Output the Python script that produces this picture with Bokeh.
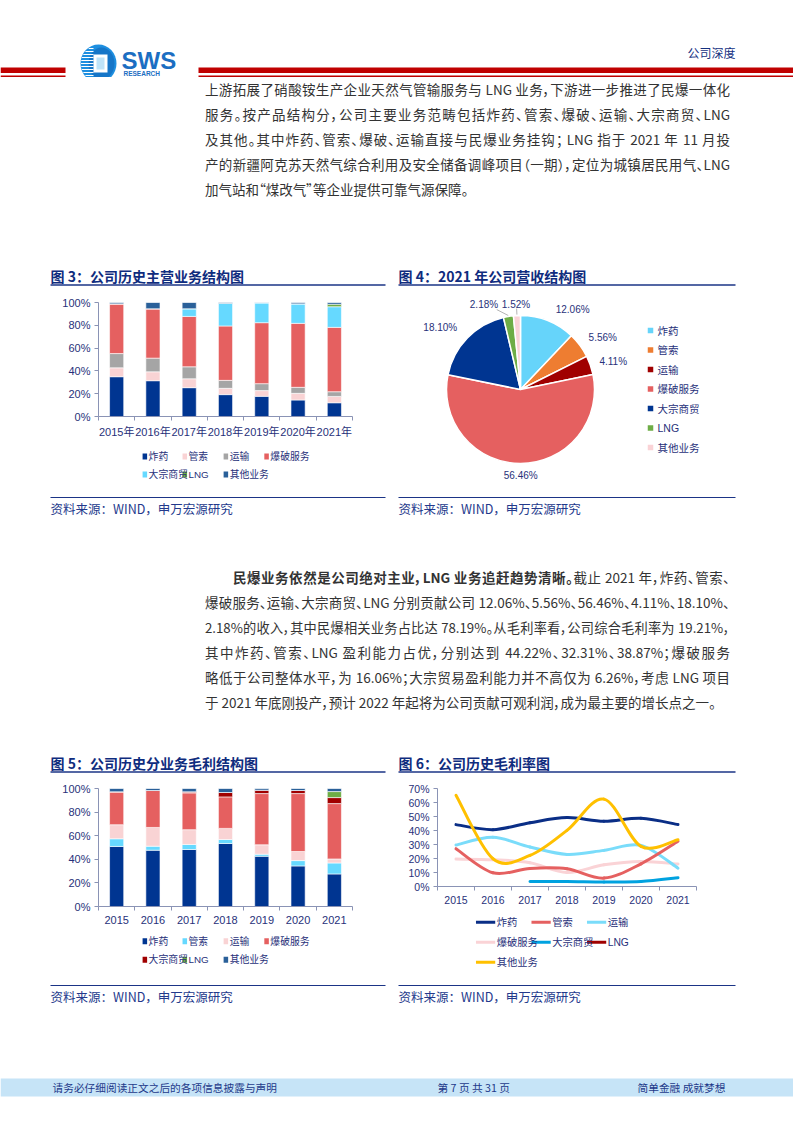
import math
from bokeh.plotting import figure
from bokeh.models import (Range1d, FixedTicker, PrintfTickFormatter, ColumnDataSource, Div, Spacer)
from bokeh.layouts import column, row
from bokeh.core.properties import value
from bokeh.embed import file_html
from bokeh.resources import INLINE

# ---------------- data ----------------
YEARS_CN = ["2015年", "2016年", "2017年", "2018年", "2019年", "2020年", "2021年"]
YEARS = ["2015", "2016", "2017", "2018", "2019", "2020", "2021"]
SEGMENTS = ["炸药", "管索", "运输", "爆破服务", "大宗商贸", "LNG", "其他业务"]

# 图3 主营业务收入结构 (%)
rev_zhayao = [34.9, 31.4, 25.3, 19.2, 17.7, 14.5, 12.06]
rev_guansuo = [7.8, 7.8, 7.8, 5.5, 5.0, 5.8, 5.56]
rev_yunshu = [12.5, 12.0, 10.5, 7.0, 6.1, 5.3, 4.11]
rev_baopo = [43.6, 43.3, 44.2, 47.7, 53.5, 56.1, 56.46]
rev_dazong = [0.0, 0.0, 6.7, 20.0, 17.4, 17.1, 18.10]
rev_lng = [0.0, 0.0, 0.0, 0.0, 0.0, 0.0, 2.18]
rev_other = [1.2, 5.5, 5.5, 0.6, 0.3, 1.2, 1.52]

# 图4 2021 年营收结构 (%)
pie_share = [12.06, 5.56, 4.11, 56.46, 18.10, 2.18, 1.52]
pie_labels = ["12.06%", "5.56%", "4.11%", "56.46%", "18.10%", "2.18%", "1.52%"]

# 图5 毛利结构 (%)
gp_zhayao = [50.9, 47.7, 48.3, 53.4, 42.6, 34.4, 27.6]
gp_guansuo = [6.5, 3.4, 4.3, 3.4, 1.7, 4.5, 9.3]
gp_yunshu = [11.9, 15.9, 12.5, 9.4, 8.0, 7.7, 3.4]
gp_baopo = [27.9, 31.3, 31.2, 26.7, 43.4, 49.1, 46.9]
gp_dazong = [0.0, 0.0, 0.9, 3.7, 2.9, 2.6, 5.1]
gp_lng = [0.0, 0.0, 0.0, 0.0, 0.0, 0.0, 5.1]
gp_other = [2.8, 1.7, 2.8, 3.4, 1.4, 1.7, 2.6]

# 图6 毛利率 (%)
gm_zhayao = [44.2, 40.6, 45.6, 49.2, 46.6, 48.7, 44.22]
gm_guansuo = [27.0, 9.8, 12.9, 12.7, 6.0, 16.2, 32.31]
gm_yunshu = [29.6, 35.1, 28.2, 22.9, 25.8, 29.4, 13.1]
gm_baopo = [19.6, 19.1, 17.0, 10.0, 15.5, 17.9, 16.06]
gm_dazong = [None, None, 3.6, 3.6, 3.3, 3.6, 6.26]
gm_lng = [None, None, None, None, None, None, 38.87]
gm_other = [65.2, 19.8, 22.2, 40.1, 62.4, 28.7, 33.4]

P1_LINES = [
    "上游拓展了硝酸铵生产企业天然气管输服务与 LNG 业务，下游进一步推进了民爆一体化",
    "服务。按产品结构分，公司主要业务范畴包括炸药、管索、爆破、运输、大宗商贸、LNG",
    "及其他。其中炸药、管索、爆破、运输直接与民爆业务挂钩； LNG 指于 2021 年 11 月投",
    "产的新疆阿克苏天然气综合利用及安全储备调峰项目（一期），定位为城镇居民用气、LNG",
    "加气站和“煤改气”等企业提供可靠气源保障。",
]
P2_BOLD = "民爆业务依然是公司绝对主业，LNG 业务追赶趋势清晰。"
P2_LINES = [
    "截止 2021 年，炸药、管索、",
    "爆破服务、运输、大宗商贸、LNG 分别贡献公司 12.06%、5.56%、56.46%、4.11%、18.10%、",
    "2.18%的收入，其中民爆相关业务占比达 78.19%。从毛利率看，公司综合毛利率为 19.21%，",
    "其中炸药、管索、LNG 盈利能力占优，分别达到 44.22%、32.31%、38.87%；爆破服务",
    "略低于公司整体水平，为 16.06%；大宗贸易盈利能力并不高仅为 6.26%，考虑 LNG 项目",
    "于 2021 年底刚投产，预计 2022 年起将为公司贡献可观利润，成为最主要的增长点之一。",
]

# ---------------- styles ----------------
CJK = "Noto Sans CJK SC"
LAT = "Liberation Sans, Noto Sans CJK SC"
TXT = "#28317A"
NAVY = "#14307F"
AXIS = "#8A93B5"
RED = "#C00000"

C3 = ["#003591", "#F9D3D4", "#A5A5A5", "#E56060", "#66D9FF", "#6EAD46", "#2A6099"]
C4 = ["#66D4FA", "#EE7D31", "#A00000", "#E56060", "#003591", "#6EAD46", "#FAD3D6"]
C5 = ["#003591", "#66D9FF", "#F9D3D4", "#E56060", "#A00000", "#6EAD46", "#2A6099"]
C6 = ["#0A2E86", "#E56060", "#7ADCFA", "#FAD3D6", "#00A2E0", "#A00000", "#FFC000"]

W = 793


def canvas(y0, y1, x0=0, x1=793):
    return figure(width=int(x1 - x0), height=int(y1 - y0), x_range=Range1d(x0, x1),
                  y_range=Range1d(y1, y0), toolbar_location=None, output_backend="svg",
                  min_border=0, x_axis_type=None, y_axis_type=None, outline_line_color=None)


def txt(p, x, y, s, size, color, font=CJK, bold=False, align="left"):
    xs = x if isinstance(x, list) else [x]
    ys = y if isinstance(y, list) else [y]
    ss = s if isinstance(s, list) else [s]
    p.text(x=xs, y=ys, text=ss, text_font=value(font), text_font_size=size,
           text_color=color, text_baseline="middle", text_align=align,
           text_font_style="bold" if bold else "normal")


# ---------------- header ----------------
hdr = canvas(0, 77)
hdr.quad(left=[0, 198], right=[65, 793], top=[67, 67], bottom=[72.5, 72.5], fill_color=RED, line_color=None)
hdr.quad(left=[0, 198], right=[65, 793], top=[75, 75], bottom=[77, 77], fill_color=RED, line_color=None)
hdr.ellipse(x=98, y=63, width=36, height=38, fill_color="#1E8FE0", line_color=None)
hdr.ellipse(x=101, y=63, width=26, height=32, fill_color="#1676C8", line_color=None)
sy = list(range(48, 80, 3))
sx0 = [98 - math.sqrt(max(18.5 ** 2 - (y - 63) ** 2, 0)) + 1 for y in sy]
hdr.segment(x0=sx0, y0=sy, x1=[93] * len(sy), y1=sy, line_color="white", line_width=1)
hdr.rect(x=100, y=63, width=14, height=18, fill_color="white", line_color=None)
hdr.rect(x=100, y=63, width=8, height=12, fill_color="#BFE3F8", line_color=None)
txt(hdr, 121, 59.5, "SWS", "24px", "#1B6EC2", font="Liberation Sans", bold=True)
txt(hdr, 123, 72.5, "RESEARCH", "6.5px", "#1B6EC2", font="Liberation Sans", bold=True)
txt(hdr, 687, 52, "公司深度", "12px", NAVY)


# ---------------- paragraphs ----------------
def est_em(s, bold=False):
    w = 0.0
    for ch in s:
        if ch in "、，。；：（）“”":
            w += 0.5
        elif ord(ch) > 0x2E80:
            w += 1.0
        elif ch.isdigit():
            w += 0.555
        elif ch == ".":
            w += 0.28
        elif ch == "%":
            w += 0.87
        elif ch == " ":
            w += 0.23
        else:
            w += 0.64
    return w * (1.03 if bold else 1.0)


def para(lines, height, pad_top):
    rows = []
    for i, (h, plain, bold, indent) in enumerate(lines):
        last = i == len(lines) - 1
        em = est_em(plain) + est_em(bold, True)
        fs = min(13.5, (516 - indent) / em)
        rows.append(
            f'<div style="height:25px;line-height:25px;font-size:{fs:.2f}px;text-align:justify;'
            f'text-align-last:{"left" if last else "justify"};padding-left:{indent}px;">{h}</div>')
    html = (f'<div style="margin-left:205px;width:525px;padding-top:{pad_top}px;'
            f'font-family:\'Noto Sans CJK SC\';color:#333333;'
            f'font-feature-settings:\'palt\';">' + "".join(rows) + "</div>")
    return Div(text=html, width=W, height=height, margin=0)


p1 = para([(l, l, "", 0) for l in P1_LINES], 181, 0)
p2_lines = [(f"<b>{P2_BOLD}</b>{P2_LINES[0]}", P2_LINES[0], P2_BOLD, 28)] + \
           [(l, l, "", 0) for l in P2_LINES[1:]]
p2 = para(p2_lines, 230, 45)


# ---------------- title / source strips ----------------
def titles(y0, y1, ty, ly, t_left, t_right):
    p = canvas(y0, y1)
    txt(p, [50, 398], [ty, ty], [t_left, t_right], "14px", "#0F2C7E", bold=True)
    p.quad(left=[50, 398], right=[385, 735], top=[ly - 0.8] * 2, bottom=[ly + 0.8] * 2,
           fill_color="#1B3486", line_color=None)
    return p


def sources(y0, y1, ly, ty):
    p = canvas(y0, y1)
    p.quad(left=[50, 398], right=[385, 735], top=[ly - 0.6] * 2, bottom=[ly + 0.6] * 2,
           fill_color="#1B3486", line_color=None)
    s = "资料来源：WIND，申万宏源研究"
    txt(p, [50, 398], [ty, ty], [s, s], "12.5px", "#23398C")
    return p


t1 = titles(258, 292, 275, 284.5, "图 3：公司历史主营业务结构图", "图 4：2021 年公司营收结构图")
s1 = sources(490, 520, 497, 507.5)
t2 = titles(750, 780, 762, 771.5, "图 5：公司历史分业务毛利结构图", "图 6：公司历史毛利率图")
s2 = sources(982, 1010, 985, 995.5)


# ---------------- charts ----------------
def base_axes(p, cats, yticks, lab_fs):
    n = len(cats)
    centers = [i + 0.5 for i in range(n)]
    p.xgrid.visible = False
    p.ygrid.visible = False
    p.xaxis.ticker = FixedTicker(ticks=centers, minor_ticks=list(range(n + 1)))
    p.xaxis.major_label_overrides = {c: lab for c, lab in zip(centers, cats)}
    p.xaxis.major_tick_out = 0
    p.xaxis.major_tick_in = 0
    p.xaxis.minor_tick_out = 4
    p.xaxis.minor_tick_in = 0
    p.xaxis.minor_tick_line_color = AXIS
    p.xaxis.major_label_standoff = 5
    p.yaxis.ticker = FixedTicker(ticks=yticks)
    p.yaxis.formatter = PrintfTickFormatter(format="%d%%")
    p.yaxis.major_tick_out = 4
    p.yaxis.major_tick_in = 0
    p.yaxis.minor_tick_line_color = None
    p.yaxis.major_label_standoff = 4
    for ax in p.axis:
        ax.axis_line_color = AXIS
        ax.major_tick_line_color = AXIS
        ax.major_label_text_font = LAT
        ax.major_label_text_font_size = lab_fs
        ax.major_label_text_color = TXT
    return centers


def bar_fig(cats, cols, colors, height, top, bottom):
    p = figure(width=337, height=height, x_range=Range1d(0, len(cats)), y_range=Range1d(0, 100),
               toolbar_location=None, output_backend="svg", min_border_left=50,
               min_border_right=33, min_border_top=top, min_border_bottom=bottom,
               outline_line_color=None)
    centers = base_axes(p, cats, [0, 20, 40, 60, 80, 100], "11px")
    data = {"x": centers}
    keys = [f"s{i}" for i in range(len(cols))]
    for k, vals in zip(keys, cols):
        data[k] = vals
    src = ColumnDataSource(data)
    p.vbar_stack(keys, x="x", width=0.39, fill_color=colors, line_color="white",
                 line_width=0.6, source=src)
    return p


def square_legend(y0, y1, x0, x1, rows_y, cols_x, colors, ncol):
    p = canvas(y0, y1, x0, x1)
    xs, ys = [], []
    for i in range(len(SEGMENTS)):
        r, c = divmod(i, ncol)
        xs.append(cols_x[c])
        ys.append(rows_y[r])
    p.rect(x=[x + 3 for x in xs], y=ys, width=6, height=6, fill_color=colors, line_color=None)
    txt(p, [x + 8 for x in xs], ys, SEGMENTS, "9.8px", TXT, font=LAT)
    return p


LEG_COLS = [106.5, 159.5, 214, 268]
p3 = bar_fig(YEARS_CN, [rev_zhayao, rev_guansuo, rev_yunshu, rev_baopo, rev_dazong, rev_lng, rev_other],
             C3, 148, 10, 23)
l3 = square_legend(440, 490, 48, 385, [456, 474], LEG_COLS, C3, 4)
p5 = bar_fig(YEARS, [gp_zhayao, gp_guansuo, gp_yunshu, gp_baopo, gp_dazong, gp_lng, gp_other],
             C5, 150, 8, 24)
l5 = square_legend(930, 982, 48, 385, [940.7, 959.3], LEG_COLS, C5, 4)

# pie
p4 = figure(width=350, height=198, x_range=Range1d(0, 350), y_range=Range1d(0, 198), min_border=0,
            x_axis_type=None, y_axis_type=None, outline_line_color=None, toolbar_location=None,
            output_backend="svg")
CX, CY, R = 125, 101, 74
tot = sum(pie_share)
cum = [0.0]
for s in pie_share:
    cum.append(cum[-1] + s)
start = [math.pi / 2 - 2 * math.pi * cum[i] / tot for i in range(len(pie_share))]
end = [math.pi / 2 - 2 * math.pi * cum[i + 1] / tot for i in range(len(pie_share))]
mid = [(a + b) / 2 for a, b in zip(start, end)]
pie_src = ColumnDataSource(dict(start=start, end=end, color=C4))
p4.wedge(x=CX, y=CY, radius=R, start_angle="start", end_angle="end", direction="clock",
         fill_color="color", line_color="white", line_width=1.5, source=pie_src)
label_nudge = [(17, -8), (6, -5), (3, -3), (0, 9), (-12, -4), (-21, -9), (0, -10)]
LR = 95
lx = [CX + LR * math.cos(m) + d[0] for m, d in zip(mid, label_nudge)]
ly = [CY + LR * math.sin(m) + d[1] for m, d in zip(mid, label_nudge)]
p4.text(x=lx, y=ly, text=pie_labels, text_font=value(LAT), text_font_size="10px",
        text_color=TXT, text_align="center", text_baseline="middle")
sm = mid[5:]
p4.segment(x0=[CX + 75 * math.cos(m) for m in sm], y0=[CY + 75 * math.sin(m) for m in sm],
           x1=[CX + 81 * math.cos(m) + d[0] * 0.5 for m, d in zip(sm, label_nudge[5:])],
           y1=[CY + 81 * math.sin(m) for m in sm], line_color="#A0A0A0", line_width=0.8)
leg_y = [160 - 19.5 * i for i in range(len(SEGMENTS))]
p4.rect(x=[255] * len(SEGMENTS), y=leg_y, width=5.5, height=5.5, fill_color=C4, line_color=None)
p4.text(x=[262] * len(SEGMENTS), y=leg_y, text=SEGMENTS, text_font=value(LAT),
        text_font_size="10.5px", text_color=TXT, text_baseline="middle")

# line chart with smoothed curves
p6 = figure(width=350, height=130, x_range=Range1d(0, 7), y_range=Range1d(0, 70),
            toolbar_location=None, output_backend="svg", min_border_left=42, min_border_right=49,
            min_border_top=8, min_border_bottom=24, outline_line_color=None)
centers6 = base_axes(p6, YEARS, [0, 10, 20, 30, 40, 50, 60, 70], "10.5px")


def smooth(xs, ys):
    pts = [(x, y) for x, y in zip(xs, ys) if y is not None]
    n = len(pts)
    out = dict(x0=[], y0=[], x1=[], y1=[], cx0=[], cy0=[], cx1=[], cy1=[])
    for i in range(n - 1):
        a = pts[max(i - 1, 0)]
        b = pts[i]
        c = pts[i + 1]
        d = pts[min(i + 2, n - 1)]
        out["x0"].append(b[0]); out["y0"].append(b[1])
        out["x1"].append(c[0]); out["y1"].append(c[1])
        out["cx0"].append(b[0] + (c[0] - a[0]) / 6); out["cy0"].append(b[1] + (c[1] - a[1]) / 6)
        out["cx1"].append(c[0] - (d[0] - b[0]) / 6); out["cy1"].append(c[1] - (d[1] - b[1]) / 6)
    return out


series6 = [gm_zhayao, gm_guansuo, gm_yunshu, gm_baopo, gm_dazong, gm_lng, gm_other]
for k in [3, 2, 4, 1, 0, 5, 6]:
    seg = smooth(centers6, series6[k])
    if seg["x0"]:
        p6.bezier(source=ColumnDataSource(seg), x0="x0", y0="y0", x1="x1", y1="y1",
                  cx0="cx0", cy0="cy0", cx1="cx1", cy1="cy1", line_color=C6[k], line_width=3,
                  line_cap="round")

l6 = canvas(910, 982, 395, 745)
L6_COLS = [447, 522, 597]
L6_ROWS = [921.7, 941.7, 961.7]
lxs = [L6_COLS[i % 3] for i in range(len(SEGMENTS))]
lys = [L6_ROWS[i // 3] for i in range(len(SEGMENTS))]
l6.segment(x0=lxs, y0=lys, x1=[x + 26 for x in lxs], y1=lys, line_color=C6, line_width=3)
txt(l6, [x + 28 for x in lxs], lys, SEGMENTS, "10.3px", TXT, font=LAT)

# ---------------- footer ----------------
ftr = canvas(1010, 1110)
ftr.quad(left=[0], right=[793], top=[1078], bottom=[1096], fill_color="#C6E4F7", line_color=None)
txt(ftr, [52, 437, 637], [1087] * 3,
    ["请务必仔细阅读正文之后的各项信息披露与声明", "第 7 页 共 31 页", "简单金融 成就梦想"],
    "10.7px", "#1E3A8A")

# ---------------- layout ----------------
r1 = row(Spacer(width=48, height=198, margin=0), column(p3, l3, spacing=0),
         Spacer(width=10, height=198, margin=0), p4, Spacer(width=48, height=198, margin=0), spacing=0)
r2 = row(Spacer(width=48, height=202, margin=0), column(p5, l5, spacing=0),
         Spacer(width=10, height=202, margin=0), column(p6, l6, spacing=0),
         Spacer(width=48, height=202, margin=0), spacing=0)
page = column(hdr, p1, t1, r1, s1, p2, t2, r2, s2, ftr, spacing=0)

open("out.html", "w").write(file_html(page, INLINE))
